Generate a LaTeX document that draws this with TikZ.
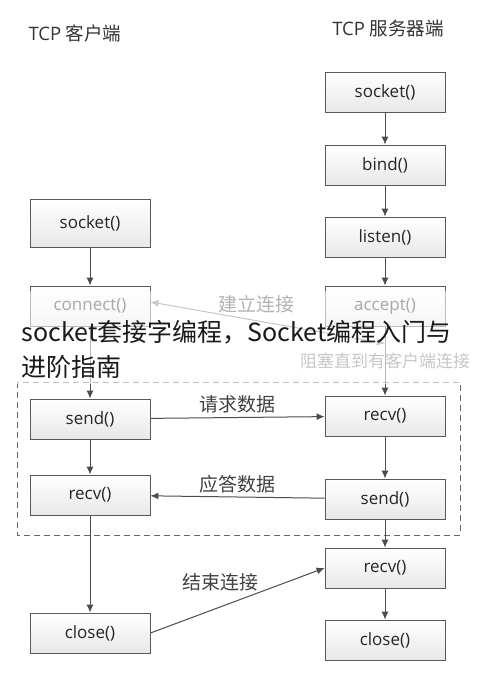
\documentclass[tikz,border=0pt]{standalone}
\usepackage{fontspec}
\setmainfont{Open Sans}
\newfontfamily\cjk{Noto Sans CJK SC}
\usetikzlibrary{positioning, arrows.meta}

\begin{document}
\begin{tikzpicture}[x=1pt, y=-1pt, on grid,
    box/.style={draw=black!65, line width=0.9pt, top color=white, bottom color=black!9,
        minimum width=120pt, minimum height=40pt, text=black!85, font=\fontsize{17}{20}\selectfont},
    lbl/.style={text=black!75, font=\cjk\fontsize{19}{22}\selectfont},
    head/.style={text=black!80, font=\fontsize{18.5}{22}\selectfont},
    flow/.style={color=black!70, line width=1pt, -{Latex[length=8pt,width=7pt]}}]
    \useasboundingbox (0,0) rectangle (476,676);
    \node[head] (c_title) at (75,33) {TCP {\cjk 客户端}};
    \node[head] (s_title) at (388,28) {TCP {\cjk 服务器端}};
    % server
    \node[box] (s_socket) at (385,92) {socket()};
    \node[box, below=73pt of s_socket] (s_bind) {bind()};
    \node[box, below=72pt of s_bind] (s_listen) {listen()};
    \node[box, below=69pt of s_listen] (s_accept) {accept()};
    \node[box, below=110pt of s_accept] (s_recv) {recv()};
    \node[box, below=83pt of s_recv] (s_send) {send()};
    \node[box, below=69pt of s_send] (s_recv2) {recv()};
    \node[box, below=72pt of s_recv2] (s_close) {close()};
    \coordinate (s_wait) at ([yshift=-17pt]s_accept.south);
    % client
    \node[box, minimum height=48pt] (c_socket) at (90,223) {socket()};
    \node[box, below=83pt of c_socket] (c_connect) {connect()};
    \node[box, below=113pt of c_connect] (c_send) {send()};
    \node[box, below=76pt of c_send] (c_recv) {recv()};
    \node[box, below=138pt of c_recv] (c_close) {close()};
    \draw[draw=black!60, line width=0.9pt, dash pattern=on 6pt off 4pt] (17,382) rectangle (460,535);
    \path[flow]
        (s_socket) edge (s_bind)
        (s_bind) edge (s_listen)
        (s_listen) edge (s_accept)
        (s_accept) edge node[lbl, text=black!55, font=\cjk\fontsize{17}{20}\selectfont] {阻塞直到有客户端连接} (s_recv)
        (s_recv) edge (s_send)
        (s_send) edge (s_recv2)
        (s_recv2) edge (s_close)
        (c_socket) edge (c_connect)
        (c_connect) edge (c_send)
        (c_send) edge (c_recv)
        (c_recv) edge (c_close)
        (c_send) edge node[lbl, above=1pt] {请求数据} (s_recv)
        (s_send) edge node[lbl, above=0pt] {应答数据} (c_recv)
        (c_close.east) edge node[lbl, pos=0.4, above=12pt] {结束连接} (s_recv2.west);
    \draw[flow, {Latex[length=8pt,width=7pt]}-{Latex[length=8pt,width=7pt]}, color=black!55]
        ([yshift=4pt]c_connect.east) -- node[lbl, pos=0.45, above=4pt] {建立连接} (s_wait);
    % overlay caption
    \fill[white, opacity=0.6] (0,291) rectangle (476,384);
    \node[anchor=west, font=\cjk\fontsize{25}{30}\selectfont, text=black!90] (cap1) at (18,332) {socket套接字编程，Socket编程入门与};
    \node[anchor=west, font=\cjk\fontsize{25}{30}\selectfont, text=black!90] (cap2) at (18,367) {进阶指南};
\end{tikzpicture}
\end{document}
